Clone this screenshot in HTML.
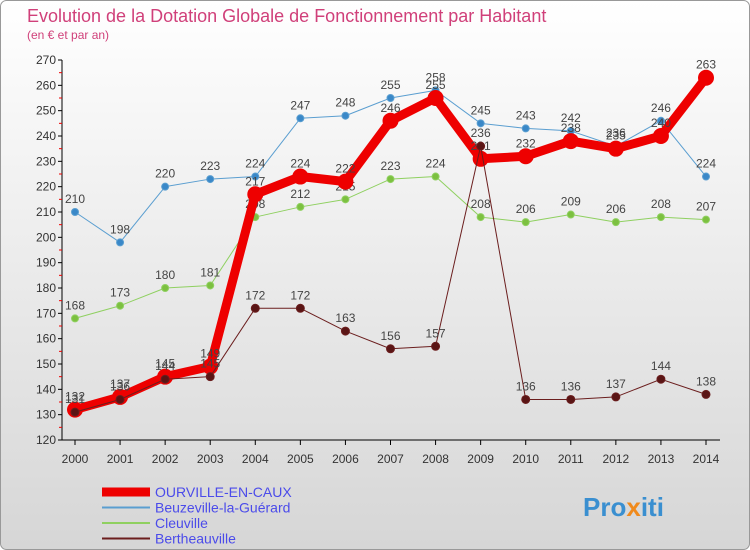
<!DOCTYPE html>
<html><head><meta charset="utf-8"><style>
body{margin:0;background:#fff}
svg{display:block;font-family:"Liberation Sans","DejaVu Sans",sans-serif}
</style></head><body>
<svg id="c" width="750" height="550">
<defs><linearGradient id="bg" x1="0" y1="0" x2="0" y2="1"><stop offset="0" stop-color="#ffffff"/><stop offset="1" stop-color="#d6d6d6"/></linearGradient></defs>
<rect x="0.5" y="0.5" width="749" height="549" rx="6" fill="url(#bg)" stroke="#999"/>
<text x="27" y="22" font-size="18" fill="#d0407a">Evolution de la Dotation Globale de Fonctionnement par Habitant</text>
<text x="27" y="39" font-size="12" fill="#d0407a">(en € et par an)</text>
<g id="axes"></g><g id="series"></g><g id="legend"></g>
<text x="583" y="516" font-size="26" font-weight="bold" fill="#3a8fd0">Pro<tspan fill="#f08a1c">x</tspan>iti</text>
</svg>
<script>
const years=[2000,2001,2002,2003,2004,2005,2006,2007,2008,2009,2010,2011,2012,2013,2014];
const yTicks=[120,130,140,150,160,170,180,190,200,210,220,230,240,250,260,270];
const ourville=[132,137,145,149,217,224,222,246,255,231,232,238,235,240,263];
const beuzeville=[210,198,220,223,224,247,248,255,258,245,243,242,236,246,224];
const cleuville=[168,173,180,181,208,212,215,223,224,208,206,209,206,208,207];
const bertheauville=[131,136,144,145,172,172,163,156,157,236,136,136,137,144,138];
const seriesNames=["OURVILLE-EN-CAUX","Beuzeville-la-Guérard","Cleuville","Bertheauville"];
const NS="http://www.w3.org/2000/svg";
const X=i=>75+i*(706-75)/14;
const Y=v=>440-(v-120)*(380/150);
function mk(tag,attrs,parent,txt){const e=document.createElementNS(NS,tag);for(const k in attrs)e.setAttribute(k,attrs[k]);if(txt!==undefined)e.textContent=txt;parent.appendChild(e);return e;}
const ax=document.getElementById('axes');
let e=mk('line',{x1:62,y1:Y(270),x2:62,y2:440,stroke:'#000'},ax);


e=mk('line',{x1:62,y1:440,x2:720,y2:440,stroke:'#000'},ax);


yTicks.forEach(t=>{
 mk('line',{x1:58,y1:Y(t),x2:62,y2:Y(t),stroke:'#000'},ax);
 if(t<270)mk('line',{x1:59,y1:Y(t+5),x2:62,y2:Y(t+5),stroke:'#e00'},ax);
 e=mk('text',{x:56,y:Y(t)+4,'font-size':12,fill:'#333','text-anchor':'end'},ax,t);
 
 
});
years.forEach((y,i)=>{
 mk('line',{x1:X(i),y1:440,x2:X(i),y2:445,stroke:'#000'},ax);
 e=mk('text',{x:X(i),y:463,'font-size':12,fill:'#333','text-anchor':'middle'},ax,y);
 
 
});
const sg=document.getElementById('series');
function draw(vals,color,w,r,dot,name){
 const g=mk('g',{},sg);
 
 
 const p=mk('polyline',{points:vals.map((v,i)=>X(i)+','+Y(v)).join(' '),fill:'none',stroke:color,'stroke-width':w,'stroke-linejoin':'round'},g);
 
 
 vals.forEach((v,i)=>{
  const c=mk('circle',{cx:X(i),cy:Y(v),r:r,fill:dot,stroke:color,'stroke-width':1},g);
  
  
  const t=mk('text',{x:X(i),y:Y(v)-9,'font-size':12,fill:'#444','text-anchor':'middle'},g,v);
  
  
 });
}
draw(cleuville,'#8fd060',1,3.5,'#7cc040','cleuville');
draw(beuzeville,'#5a9ed0',1,3.5,'#3a88c8','beuzeville');
draw(ourville,'#ee0000',9,7.5,'#ee0000','ourville');
draw(bertheauville,'#6b1e1e',1,4,'#5a1515','bertheauville');
const lg=document.getElementById('legend');
const lc=[['#ee0000',9],['#5a9ed0',2],['#8fd060',2],['#6b1e1e',2]];
seriesNames.forEach((n,i)=>{
 const y=492+i*15.5;
 const g=mk('g',{},lg);
 
 
 mk('line',{x1:102,y1:y,x2:150,y2:y,stroke:lc[i][0],'stroke-width':lc[i][1]},g);
 mk('text',{x:155,y:y+5,'font-size':14,fill:'#4b4bea'},g,n);
});
</script>
</body></html>
